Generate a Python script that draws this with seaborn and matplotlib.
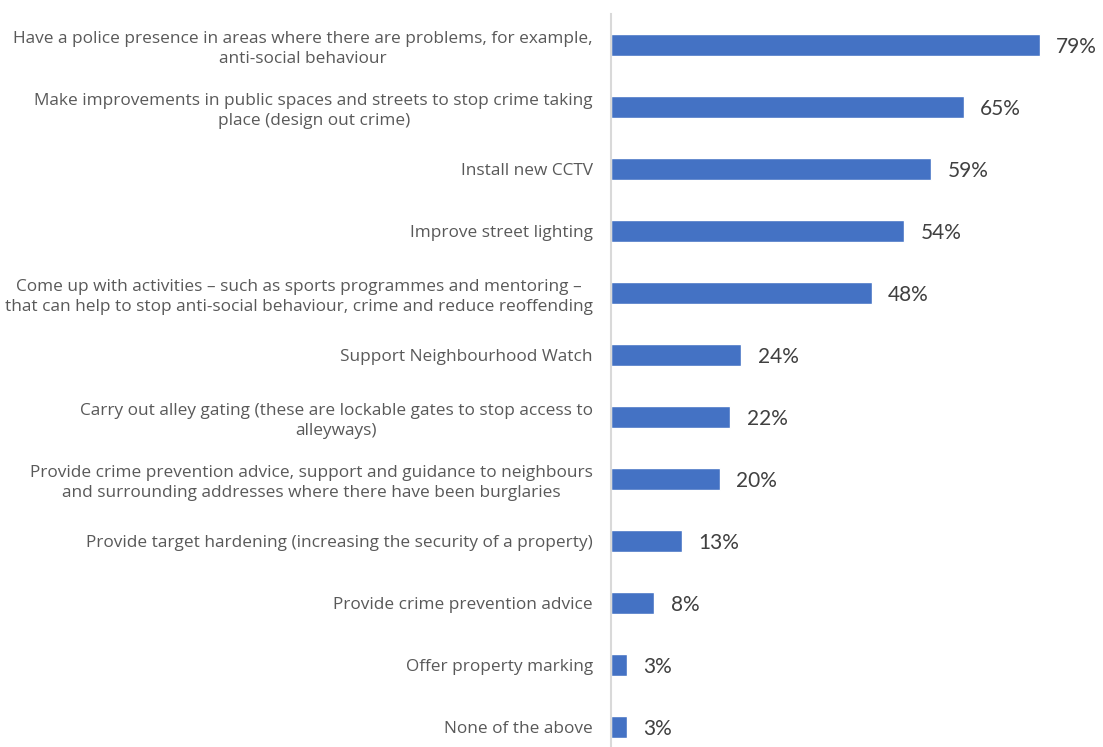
import pandas as pd
import seaborn as sns
import matplotlib.pyplot as plt

categories = [
    "Have a police presence in areas where there are problems, for example,\nanti-social behaviour",
    "Make improvements in public spaces and streets to stop crime taking\nplace (design out crime)",
    "Install new CCTV",
    "Improve street lighting",
    "Come up with activities \u2013 such as sports programmes and mentoring \u2013\nthat can help to stop anti-social behaviour, crime and reduce reoffending",
    "Support Neighbourhood Watch",
    "Carry out alley gating (these are lockable gates to stop access to\nalleyways)",
    "Provide crime prevention advice, support and guidance to neighbours\nand surrounding addresses where there have been burglaries",
    "Provide target hardening (increasing the security of a property)",
    "Provide crime prevention advice",
    "Offer property marking",
    "None of the above",
]
values = [79, 65, 59, 54, 48, 24, 22, 20, 13, 8, 3, 3]

df = pd.DataFrame({"category": categories, "pct": values})

sns.set_theme(style="white")
plt.rcParams["font.family"] = ["Open Sans", "DejaVu Sans"]

fig = plt.figure(figsize=(11.03, 7.47), dpi=100)
ax = fig.add_axes([611 / 1103, -11 / 747, 492 / 1103, 744 / 747])

sns.barplot(data=df, y="category", x="pct", color="#4472C4", width=0.36,
            saturation=1, ax=ax)

ax.set_xlim(0, 492 / 5.43)
ax.set_ylim(11.5, -0.5)

for i, v in enumerate(values):
    ax.text(v + 3.0, i + 0.03, f"{v}%", va="center", ha="left", fontsize=15,
            color="#404040", family=["Lato", "DejaVu Sans"])

ax.set_xlabel("")
ax.set_ylabel("")
ax.set_xticks([])
ax.tick_params(axis="y", length=0, pad=13, labelsize=12.4, labelcolor="#595959")
for lbl in ax.get_yticklabels():
    lbl.set_multialignment("center")
    lbl.set_linespacing(1.3)

for s in ["top", "right", "bottom"]:
    ax.spines[s].set_visible(False)
ax.spines["left"].set_color("#D9D9D9")
ax.spines["left"].set_linewidth(1.5)

plt.savefig("out.png", dpi=100)
